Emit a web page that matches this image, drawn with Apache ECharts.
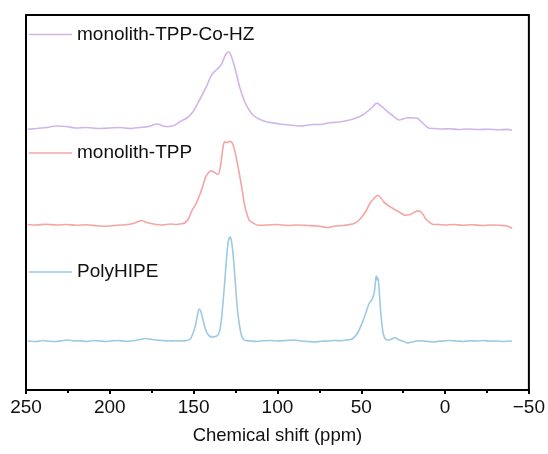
<!DOCTYPE html>
<html>
<head>
<meta charset="utf-8">
<script src="https://cdn.jsdelivr.net/npm/echarts@6/dist/echarts.min.js"></script>
<style>
html,body{margin:0;padding:0;background:#fff;}
#chart{width:548px;height:454px;}
</style>
</head>
<body>
<div id="chart"></div>
<script>
// Series names
const seriesNames = ['monolith-TPP-Co-HZ', 'monolith-TPP', 'PolyHIPE'];
// X axis tick values (ppm)
const xTicks = [250, 200, 150, 100, 50, 0, -50];
// Vertical stacking offsets (a.u.)
const offsets = [262, 165.5, 49];

// [chemical shift (ppm), intensity above own baseline (a.u.)]
const coHZ = [
  [249,-1.3],[244,-0.5],[238,0.5],[232,2],[226,1.5],[220,0],[214,0.5],[207,-0.5],[200,0],[194,0.5],
  [188,-0.5],[182,0.5],[177,1.5],[172,4],[168,2],[165.6,1.3],[161,3],[158.3,6.3],[154,10],[150.4,16.3],
  [146.5,28],[142.4,41.3],[140.5,49],[138.5,54.7],[136.5,58],[134.5,61.3],[133,65],[131.5,71.3],[130.2,75],
  [129,76.3],[127.8,73],[126.6,67],[125.6,61.3],[124,51],[122.6,41.3],[120.6,31],[118.6,23],[116.5,17],
  [114.7,13],[111,9],[106.7,6.3],[102,5],[98.8,4],[93,3],[87,2],[83,2.5],[79,3.5],[74,3.5],[69,5.3],
  [63,6],[57,8],[53,10],[49.2,13],[46,17],[43,21.5],[41.2,24.5],[40.3,24.7],[39,23],[37,20.5],[34.3,16.3],
  [31,12],[27.4,8],[25,9],[22.4,10.3],[19.5,10],[16.5,9.7],[14,6],[11.5,2],[9.5,-0.3],[6,-0.5],[2,-1],
  [-3,-0.8],[-8,-1.5],[-14,-1],[-20,-1.5],[-26,-1.2],[-32,-1.8],[-37,-1.4],[-40,-2.2]
];

const tpp = [
  [249,0],[244,-0.5],[238,0.3],[232,-0.5],[226,0],[220,-0.8],[214,-0.3],[208,-1.2],[203,-1.7],[197,-1],
  [191,-0.3],[186,1],[183,3],[181,4],[178,2],[174,0.5],[169,-0.5],[164,0.5],[160,0],[157,0.8],[155.4,1.5],
  [153,6],[151,14],[148.8,20],[146.8,27.6],[144.8,37],[142.8,47.6],[141,52],[139.6,53.6],[137.5,52],
  [135.4,50],[134,58],[132.3,79],[131.3,82.6],[130,82],[128.5,83],[127.2,82.3],[126,77.6],[124,62],
  [122,44],[120.8,32],[119.8,21],[118.3,11],[116.7,4],[114,1],[111.5,-0.7],[106,-0.5],[100,0],[94,-1],
  [88,-0.5],[82,-1],[76,-1.5],[70,-3],[66,-1.5],[61,-1],[57,0],[54.3,1],[51.5,4],[49,9],[47,14],
  [44.9,21],[42.5,26],[40.2,29.3],[38.5,27],[36.6,22.6],[34,19],[32,17],[30.4,15.3],[28,13],[26,11],
  [24,9.3],[21,10],[18,12.5],[15.8,13.6],[13.5,11],[11.7,6],[9.5,2.5],[7.5,0.3],[4,0],[0,-0.5],
  [-5,0],[-10,-0.8],[-16,-0.3],[-22,-1],[-28,-0.5],[-33,-0.8],[-37,-1.5],[-40,-4]
];

const polyHIPE = [
  [249,0],[244,-0.5],[240,0.5],[236,-0.3],[232,-0.5],[228,0.5],[225,1],[221,0],[218,0.3],[214,-0.5],
  [210,0.5],[206,0],[202,-0.5],[198,0.3],[195,0.5],[191,-0.3],[188,0],[185,0.5],[182,1.5],[179,2.5],
  [176,2],[173,1],[169,0.5],[165,0],[161,0.3],[157,0],[154,0.5],[152,2],[150.5,7],[149,15],[147.8,25],
  [146.8,32],[145.8,30],[144.8,24],[143.5,15],[142,8],[140.5,5],[139,4],[137,4.5],[135.5,6],[134.5,10],
  [133.5,20],[132.5,38],[131.5,58],[130.5,80],[129.6,96],[128.8,103],[128.2,104],[127.5,101],[126.8,92],
  [126,78],[125.2,60],[124.4,42],[123.5,26],[122.5,14],[121.5,6],[120.5,2],[119,0.5],[116,0],[112,-0.5],
  [108,0.3],[104,0.5],[100,0],[95,0.5],[90,1],[86,0],[82,-0.5],[78,-1],[74,-0.3],[70,0],[66,0.5],
  [62,0.3],[59,1],[56.5,1.5],[55,2.5],[53.5,5],[52,8.5],[50.5,14],[49,20],[47.5,27],[46.3,33],[45.3,37.5],
  [44.2,40],[43.2,43],[42.3,48],[41.7,56],[41.2,64],[40.8,65],[40.4,61],[40,63],[39.5,55],[38.8,38],
  [38.2,25],[37.5,14],[36.8,7],[36,3],[34.5,1],[33,1],[31.5,2.5],[29.8,3.2],[28.3,2],[26.5,0.5],
  [24.5,-0.5],[22.6,-2],[20.5,-1.3],[18.5,-0.5],[16,0.3],[13,0],[10,-0.5],[7,-1],[4,-0.3],[1,0],
  [-3,0.5],[-7,0],[-11,-0.5],[-15,0.3],[-19,0],[-23,0.5],[-27,-0.3],[-31,0],[-35,-0.5],[-38,0],[-40,-0.3]
];

const seriesData = [coHZ, tpp, polyHIPE];
const colors = ['#d1b5ea', '#f4a5a5', '#9ccae2'];
const legendTops = [25, 143.5, 262.5];

const FONT = '"Liberation Sans", Arial, Helvetica, sans-serif';

const chart = echarts.init(document.getElementById('chart'), null, {renderer: 'canvas'});

const series = seriesNames.map((name, i) => ({
  name: name,
  type: 'line',
  data: seriesData[i].map(p => [p[0], p[1] + offsets[i]]),
  symbol: 'none',
  showSymbol: false,
  smooth: 0.25,
  lineStyle: {color: colors[i], width: 1.6},
  itemStyle: {color: colors[i]},
  silent: true,
  z: 3
}));

const legends = seriesNames.map((name, i) => ({
  data: [{name: name, icon: 'rect'}],
  left: 29,
  top: legendTops[i],
  orient: 'horizontal',
  itemWidth: 43,
  itemHeight: 1.6,
  itemGap: 5,
  selectedMode: false,
  itemStyle: {color: colors[i], borderWidth: 0},
  textStyle: {fontFamily: FONT, fontSize: 19, color: '#111', lineHeight: 19},
  padding: 0
}));

chart.setOption({
  animation: false,
  backgroundColor: '#ffffff',
  legend: legends,
  grid: {
    left: 26, right: 17, top: 15, bottom: 64,
    show: true, borderColor: '#000', borderWidth: 2, backgroundColor: 'transparent'
  },
  xAxis: {
    type: 'value',
    inverse: true,
    min: xTicks[xTicks.length - 1],
    max: xTicks[0],
    interval: 50,
    name: 'Chemical shift (ppm)',
    nameLocation: 'middle',
    nameGap: 36,
    nameTextStyle: {fontFamily: FONT, fontSize: 18.5, color: '#111'},
    axisLine: {show: true, onZero: false, lineStyle: {color: '#000', width: 2}},
    axisTick: {show: true, inside: false, length: 4, lineStyle: {color: '#000', width: 2}},
    minorTick: {show: true, splitNumber: 2, length: 3, lineStyle: {color: '#000', width: 2}},
    axisLabel: {
      fontFamily: FONT, fontSize: 19, color: '#111', margin: 8,
      formatter: v => (v < 0 ? '\u2212' + Math.abs(v) : String(v))
    },
    splitLine: {show: false}
  },
  yAxis: {
    type: 'value',
    min: 0,
    max: 375,
    show: false
  },
  series: series
});
</script>
</body>
</html>
